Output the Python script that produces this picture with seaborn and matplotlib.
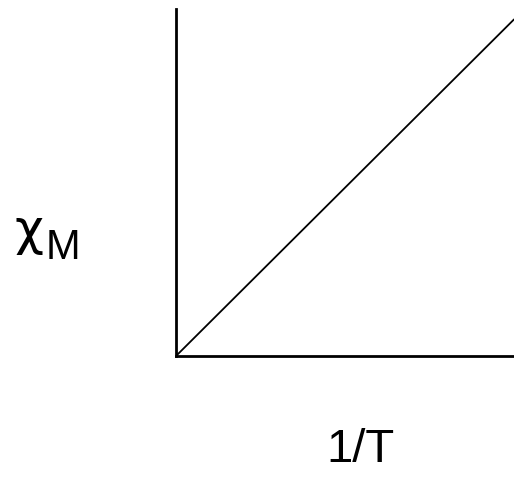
import numpy as np
import pandas as pd
import seaborn as sns
import matplotlib
matplotlib.use('Agg')
import matplotlib.pyplot as plt

# schematic: chi_M against 1/T, a straight line through the origin
inv_t = [0.0, 1.0]
chi_m = [0.0, 0.97]
x_label = '1/T'
y_symbol = 'χ'
y_sub = 'M'

df = pd.DataFrame({'inv_t': inv_t, 'chi_m': chi_m})

sns.set_theme(style='white')
plt.rcParams['font.family'] = ['Liberation Sans', 'DejaVu Sans']
plt.rcParams['text.color'] = 'black'

W, H = 514, 481
fig = plt.figure(figsize=(W / 100, H / 100), dpi=100)
ax = fig.add_axes([176 / W, (H - 357) / H, (W - 176) / W, 347 / H])

sns.lineplot(data=df, x='inv_t', y='chi_m', color='black', lw=1.3, ax=ax)
ax.set(xlim=(0, 1), ylim=(0, 1), xticks=[], yticks=[], xlabel='', ylabel='')
for side in ('top', 'right'):
    ax.spines[side].set_visible(False)
for side in ('left', 'bottom'):
    ax.spines[side].set_color('black')
    ax.spines[side].set_linewidth(2)

fig.text(361 / W, (H - 462) / H, x_label, fontsize=34, ha='center', va='baseline')
fig.text(15 / W, (H - 245) / H, y_symbol, fontsize=36, family='DejaVu Sans',
         ha='left', va='baseline')
fig.text(46 / W, (H - 259) / H, y_sub, fontsize=30, ha='left', va='baseline')

fig.savefig('out.png', dpi=100)
